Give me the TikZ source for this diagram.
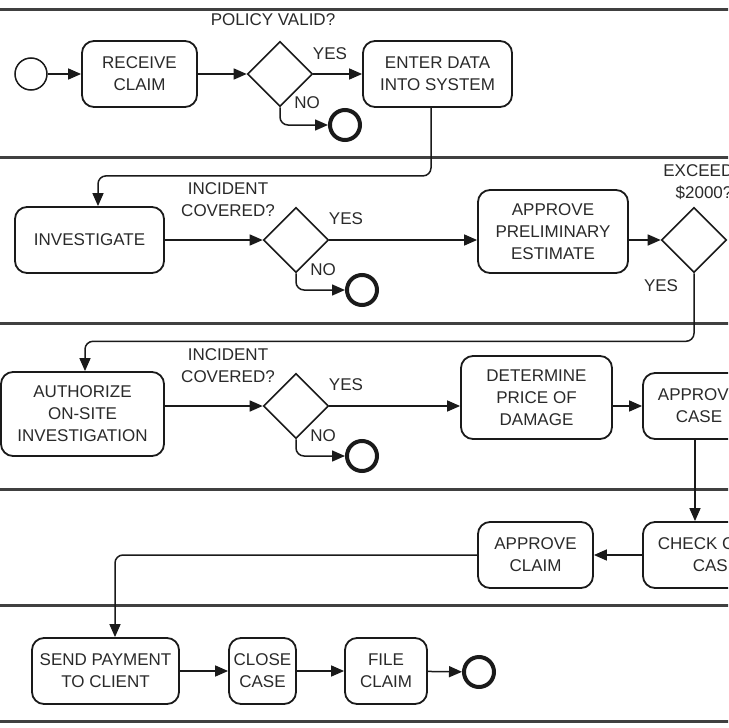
\documentclass[tikz,border=0pt]{standalone}
\usepackage{fontspec}
\setmainfont{Liberation Sans}
\usetikzlibrary{arrows.meta,shapes.geometric}
\definecolor{ink}{HTML}{1A1A1A}
\definecolor{txt}{HTML}{2A2A2A}
\tikzset{
  task/.style={draw=ink, line width=1.8pt, rounded corners=12pt, align=center, inner sep=0pt, text=txt, font=\fontsize{17}{22}\selectfont},
  gate/.style={draw=ink, line width=1.6pt, diamond, shape aspect=1, minimum width=65pt, minimum height=65pt, inner sep=0pt},
  startev/.style={draw=ink, circle, line width=1.5pt, minimum size=32pt, inner sep=0pt},
  endev/.style={draw=ink, circle, line width=4pt, minimum size=30pt, inner sep=0pt},
  flow/.style={draw=ink, line width=1.5pt, -{Triangle[length=13pt,width=11pt]}, rounded corners=8pt},
  lbl/.style={text=txt, font=\fontsize{17}{22}\selectfont, align=center, inner sep=0pt},
  lane/.style={draw=black!75, line width=3pt}
}
\begin{document}
\begin{tikzpicture}[x=1pt,y=-1pt]
\useasboundingbox (0,0) rectangle (728,728);
\clip (0,0) rectangle (728,728);
\fill[white] (0,0) rectangle (728,728);
% lanes
\foreach \yy in {9,157,323,489,605,721} \draw[lane] (-5,\yy) -- (735,\yy);
% lane 1
\node[startev] (s) at (31,74) {};
\node[task, minimum width=115pt, minimum height=66pt] (receive) at (139.5,74) {RECEIVE\\CLAIM};
\node[gate] (g1) at (280,74) {};
\node[task, minimum width=149pt, minimum height=66pt] (enter) at (437.5,74) {ENTER DATA\\INTO SYSTEM};
\node[endev] (e1) at (345,125) {};
\node[lbl] (l1) at (273,20) {POLICY VALID?};
\node[lbl] (l1y) at (330,54) {YES};
\node[lbl] (l1n) at (307,103) {NO};
% lane 2
\node[task, minimum width=149pt, minimum height=66pt] (inv) at (89.5,240) {INVESTIGATE};
\node[gate] (g2) at (296,240) {};
\node[endev] (e2) at (362,290) {};
\node[task, minimum width=150pt, minimum height=83pt] (prelim) at (553,231.5) {APPROVE\\PRELIMINARY\\ESTIMATE};
\node[gate] (g3) at (694,240) {};
\node[lbl] (l2) at (228,199.5) {INCIDENT\\COVERED?};
\node[lbl] (l2y) at (346,219) {YES};
\node[lbl] (l2n) at (323,270) {NO};
\node[lbl] (l3) at (704,182) {EXCEEDS\\\$2000?};
\node[lbl] (l3y) at (661,286) {YES};
% lane 3
\node[task, minimum width=163pt, minimum height=84pt] (auth) at (82.5,414) {AUTHORIZE\\ON-SITE\\INVESTIGATION};
\node[gate] (g4) at (296,406) {};
\node[endev] (e3) at (362,456) {};
\node[task, minimum width=151pt, minimum height=83pt] (det) at (536.5,397.5) {DETERMINE\\PRICE OF\\DAMAGE};
\node[task, minimum width=112pt, minimum height=66pt] (acase) at (699,406) {APPROVE\\CASE};
\node[lbl] (l4) at (228,365.5) {INCIDENT\\COVERED?};
\node[lbl] (l4y) at (346,385) {YES};
\node[lbl] (l4n) at (323,436) {NO};
% lane 4
\node[task, minimum width=146pt, minimum height=66pt] (check) at (716,555) {CHECK CLAIM\\CASE};
\node[task, minimum width=115pt, minimum height=66pt] (aclaim) at (535.5,555) {APPROVE\\CLAIM};
% lane 5
\node[task, minimum width=147pt, minimum height=66pt] (send) at (105.5,671) {SEND PAYMENT\\TO CLIENT};
\node[task, minimum width=67pt, minimum height=66pt] (close) at (262.5,671) {CLOSE\\CASE};
\node[task, minimum width=82pt, minimum height=66pt] (file) at (386,671) {FILE\\CLAIM};
\node[endev] (e4) at (479,672) {};
% flows
\draw[flow] (s) -- (receive);
\draw[flow] (receive) -- (g1.west);
\draw[flow] (g1.east) -- (enter);
\draw[flow] (g1.south) |- (e1);
\draw[flow] ([xshift=-6.5pt]enter.south) -- ++(0,68) -| ([xshift=8.5pt]inv.north);
\draw[flow] (inv) -- (g2.west);
\draw[flow] (g2.east) -- (prelim.west |- g2.east);
\draw[flow] (g2.south) |- (e2);
\draw[flow] (prelim.east |- g3.west) -- (g3.west);
\draw[flow] (g3.south) -- ++(0,68) -| ([xshift=2.5pt]auth.north);
\draw[flow] (auth.east |- g4.west) -- (g4.west);
\draw[flow] (g4.east) -- (det.west |- g4.east);
\draw[flow] (g4.south) |- (e3);
\draw[flow] (det.east |- acase.west) -- (acase.west);
\draw[flow] ([xshift=-4pt]acase.south) -- ([xshift=-4pt]acase.south |- check.north);
\draw[flow] (check.west) -- (aclaim.east);
\draw[flow] (aclaim.west) -| ([xshift=9.5pt]send.north);
\draw[flow] (send) -- (close);
\draw[flow] (close) -- (file);
\draw[flow] (file) -- (e4);
\end{tikzpicture}
\end{document}
